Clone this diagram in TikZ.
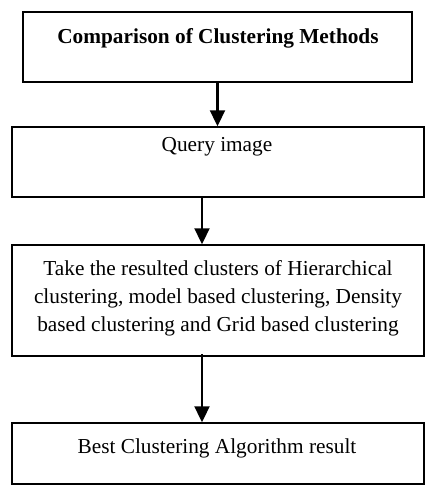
\documentclass[tikz,border=0pt]{standalone}
\usepackage{fontspec}
\setmainfont{Liberation Serif}
\usetikzlibrary{arrows.meta}
\begin{document}
\begin{tikzpicture}[x=1pt,y=-1pt,
  box/.style={draw,line width=1.5pt,rectangle,inner sep=0pt,minimum width=#1},
  txt/.style={anchor=base,inner sep=0pt,font=\fontsize{21.3}{26}\selectfont},
  arr/.style={line width=2.3pt,-{Triangle[width=15pt,length=16pt]}}]
\useasboundingbox (0,0) rectangle (425,485);
\node[box=389pt,minimum height=70pt] (b1) at (217.5,47) {};
\node[box=412pt,minimum height=70pt] (b2) at (218,162) {};
\node[box=412pt,minimum height=111pt] (b3) at (218,300.5) {};
\node[box=412pt,minimum height=61pt] (b4) at (218,453.5) {};
\node[txt,font=\fontsize{21.3}{26}\selectfont\bfseries] (t1) at (218,43) {Comparison of Clustering Methods};
\node[txt] (t2) at (217,151) {Query image};
\node[txt] (t3a) at (218,275) {Take the resulted clusters of Hierarchical};
\node[txt] (t3b) at (218,303) {clustering, model based clustering, Density};
\node[txt] (t3c) at (218,331) {based clustering and Grid based clustering};
\node[txt] (t4) at (217,453) {Best Clustering Algorithm result};
\draw[arr] (b1.south) -- (b1.south |- b2.north);
\draw[arr] ([xshift=-16pt]b2.south) -- ([xshift=-16pt]b3.north);
\draw[arr] ([xshift=-16pt,yshift=3pt]b3.south) -- ([xshift=-16pt]b4.north);
\end{tikzpicture}
\end{document}
